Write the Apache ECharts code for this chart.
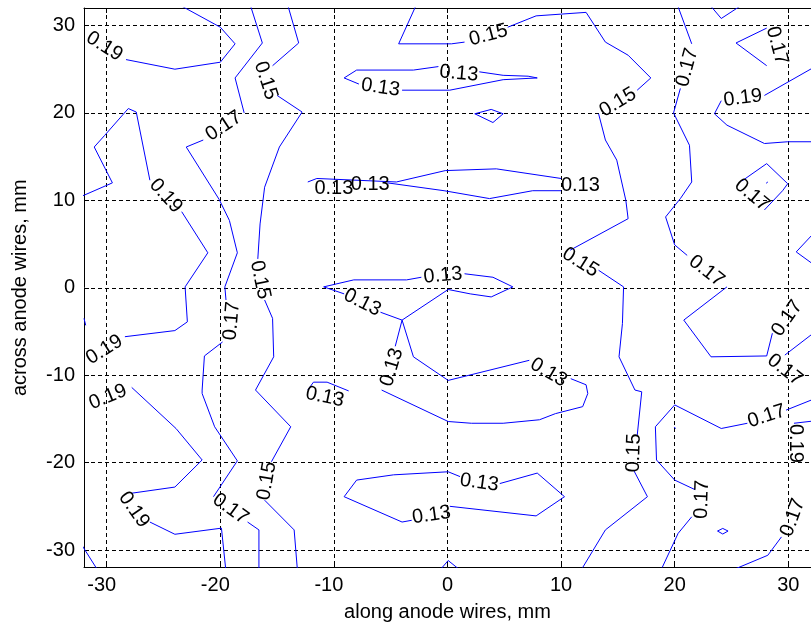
<!DOCTYPE html>
<html>
<head>
<meta charset="utf-8">
<script src="https://cdn.jsdelivr.net/npm/echarts@6/dist/echarts.min.js"></script>
<style>html,body{margin:0;padding:0;background:#fff}#chart{width:811px;height:629px}</style>
</head>
<body>
<div id="chart"></div>
<script>
// ---- contour polylines, data units (mm) ----
const c19_topLeft   = [[-28.3,26.1],[-24.0,25.0],[-20.0,25.8],[-18.7,27.9],[-20.0,29.8],[-23.8,32.5]];
const c17_left1     = [[-17.4,32.5],[-16.3,28.0],[-18.7,24.0],[-17.9,20.0]];
const c17_left2     = [[-21.5,16.9],[-23.0,16.1],[-20.1,10.1],[-19.2,7.7],[-18.5,4.0],[-19.6,0.1],[-19.5,-1.4]];
const c17_left3     = [[-19.8,-6.2],[-21.4,-7.8],[-21.6,-11.7],[-21.6,-12.1],[-20.5,-15.9],[-18.5,-19.8],[-20.6,-23.9]];
const c17_left4     = [[-17.6,-26.8],[-16.6,-27.7],[-16.6,-32.5]];
const c19_mid1      = [[-32.5,10.3],[-29.5,12.0],[-31.1,16.1],[-30.2,17.4],[-28.1,20.5],[-27.4,20.1],[-26.2,12.3]];
const c19_mid2      = [[-23.4,8.7],[-21.1,4.0],[-23.1,0.1],[-22.9,-3.9],[-24.0,-4.9],[-28.4,-5.6]];
const c19_low1      = [[-27.8,-11.4],[-23.9,-16.1],[-21.6,-19.7],[-24.0,-22.8],[-27.8,-23.5]];
const c19_low2      = [[-26.2,-26.8],[-24.0,-28.2],[-19.9,-27.5],[-19.5,-32.5]];
const c_corner      = [[-32.5,-28.8],[-30.7,-32.5]];
const c_leftStub    = [[-32.0,-3.5],[-31.85,-4.3]];
const c15_left1     = [[-14.1,32.5],[-13.1,28.0],[-15.4,25.4]];
const c15_left2     = [[-15.0,22.0],[-12.8,20.1],[-14.8,16.1],[-16.1,11.5],[-16.5,7.3],[-16.7,3.3]];
const c15_left3     = [[-16.1,-1.4],[-15.4,-3.5],[-15.3,-7.9],[-16.9,-11.7],[-17.0,-11.9],[-13.8,-15.9],[-15.5,-19.9]];
const c15_left4     = [[-16.1,-24.3],[-13.5,-27.7],[-13.2,-32.5]];
const c13_small     = [[-12.3,-11.7],[-11.8,-10.8],[-10.6,-10.8],[-8.7,-11.8]];
const c13_top1      = [[2.8,24.7],[4.9,24.3],[7.1,24.2],[7.9,24.0],[4.9,23.8],[0.2,22.6],[-4.0,22.6]];
const c13_top2      = [[-7.8,23.3],[-9.1,24.0],[-8.0,24.9],[-3.0,24.9],[-0.8,25.3]];
const c13_diamond   = [[2.4,19.9],[4.0,18.9],[4.9,19.9],[3.85,20.4],[2.4,19.9]];
const c13_y12up     = [[-12.3,12.1],[-11.5,12.5],[-4.5,12.1],[-0.2,13.4],[4.3,13.6],[10.0,12.5]];
const c13_y12lo     = [[10.0,11.1],[7.5,11.1],[3.7,10.2],[-0.3,11.1],[-5.3,12.0]];
const c13_c1        = [[1.5,1.6],[4.0,1.2],[5.75,0.1],[3.85,-1.05],[2.0,-0.7],[0.06,-0.2],[-4.0,-3.7],[-5.9,-2.8]];
const c13_c2        = [[-9.1,-0.7],[-10.9,0.1],[-8.25,0.9],[-3.6,0.9],[-2.3,1.2]];
const c13_c3        = [[-4.0,-3.7],[-3.0,-7.9],[0.06,-10.6],[7.2,-8.3]];
const c13_c4        = [[10.85,-10.4],[12.2,-11.1],[12.35,-12.1],[11.9,-13.6],[9.5,-14.4],[8.1,-15.1],[4.9,-15.5],[2.1,-15.5],[0.06,-15.3],[-5.8,-11.7]];
const c13_c5        = [[-4.0,-3.7],[-4.6,-6.7]];
const c13_low1      = [[4.6,-22.4],[7.9,-21.2],[10.3,-23.9],[7.8,-26.1],[0.2,-25.0]];
const c13_low2      = [[-3.15,-26.6],[-4.0,-26.8],[-9.1,-23.9],[-8.0,-22.0],[-4.75,-21.4],[0.06,-21.05],[1.1,-21.6]];
const c13_bottom    = [[-0.8,-32.5],[0.06,-31.2],[1.3,-32.5]];
const c15_ctr1      = [[-2.7,32.5],[-4.3,27.9],[0.35,27.9],[1.5,28.1]];
const c15_ctr2      = [[5.3,29.8],[7.8,31.1],[10.0,31.3],[12.2,31.5],[13.9,28.1],[15.9,26.6],[17.9,24.0],[16.7,22.6]];
const c15_ctr3      = [[13.3,19.9],[13.9,16.9],[14.9,14.6],[15.7,10.0],[15.9,7.9],[10.8,4.3]];
const c15_ctr4      = [[13.3,2.0],[15.5,0.1],[15.4,-4.1],[15.1,-7.9],[16.5,-11.7],[17.1,-11.9],[16.7,-16.9]];
const c15_ctr5      = [[16.4,-20.9],[17.6,-23.9],[13.9,-27.7],[11.9,-32.0]];
const c17_right1    = [[20.2,32.5],[21.5,27.9]];
const c17_right2    = [[20.5,22.8],[19.9,20.0],[21.3,16.3],[21.5,12.1],[20.5,10.2],[19.2,8.1],[20.0,4.9],[21.1,3.7]];
const c17_right3    = [[24.6,0.1],[20.8,-3.7],[23.2,-7.9],[28.1,-7.8],[28.6,-5.2]];
const c17_low1      = [[32.5,-12.6],[29.8,-14.0]];
const c17_low2      = [[26.4,-15.5],[24.1,-16.1],[20.0,-13.4],[18.3,-15.9],[18.4,-19.7],[20.0,-22.0],[21.8,-23.1]];
const c17_low3      = [[21.5,-26.2],[20.3,-28.1],[18.9,-32.0]];
const c_dot1        = [[19.95,-15.95],[20.1,-16.1]];
const c_dot2        = [[28.05,11.95],[28.2,12.1]];
const c19_right1    = [[32.5,25.4],[27.9,22.0]];
const c19_right2    = [[24.1,21.4],[23.5,19.9],[24.6,18.6],[27.9,16.5],[29.95,16.7],[32.5,16.7]];
const c17_diamond   = [[28.1,25.4],[25.4,28.0],[28.1,29.7]];
const c17_tri       = [[27.9,8.9],[29.5,11.1],[29.95,11.9],[28.1,14.2],[25.9,12.2]];
const c_topDip      = [[23.0,32.5],[24.1,30.8],[26.1,32.5]];
const c_rightV      = [[32.5,6.6],[30.7,4.1],[32.5,2.4]];
const c17_rightY    = [[32.5,-4.9],[29.7,-7.7]];
const c19_right3    = [[32.5,-15.2],[30.5,-15.5]];
const c17_corner    = [[24.7,-32.5],[28.2,-30.6],[29.4,-28.5]];
const c_smallDiam   = [[23.77,-27.83],[24.23,-27.53],[24.70,-27.83],[24.23,-28.17],[23.77,-27.83]];

const contourLines = [c19_topLeft,c17_left1,c17_left2,c17_left3,c17_left4,c19_mid1,c19_mid2,c19_low1,c19_low2,
  c_corner,c_leftStub,c15_left1,c15_left2,c15_left3,c15_left4,c13_small,c13_top1,c13_top2,c13_diamond,
  c13_y12up,c13_y12lo,c13_c1,c13_c2,c13_c3,c13_c4,c13_c5,c13_low1,c13_low2,c13_bottom,
  c15_ctr1,c15_ctr2,c15_ctr3,c15_ctr4,c15_ctr5,c17_right1,c17_right2,c17_right3,c17_low1,c17_low2,c17_low3,
  c_dot1,c_dot2,c19_right1,c19_right2,c17_diamond,c17_tri,c_topDip,c_rightV,c17_rightY,c19_right3,c17_corner,c_smallDiam];

// ---- contour labels: [x, y, text] ----
const labelPoints = [
  [-30.2,27.6,'0.19'],[-19.7,18.5,'0.17'],[-19.0,-3.8,'0.17'],[-19.1,-25.3,'0.17'],
  [-24.8,10.5,'0.19'],[-30.2,-7.1,'0.19'],[-29.9,-12.5,'0.19'],[-27.6,-25.4,'0.19'],
  [-16.0,23.7,'0.15'],[-16.5,0.9,'0.15'],[-15.9,-22.1,'0.15'],
  [-10.8,-12.5,'0.13'],[1.0,24.5,'0.13'],[-5.9,22.9,'0.13'],
  [-10.0,11.3,'0.13'],[-6.8,11.8,'0.13'],[11.7,11.7,'0.13'],
  [-0.4,1.4,'0.13'],[-7.5,-1.7,'0.13'],[8.9,-9.7,'0.13'],[-4.9,-9.1,'0.13'],
  [2.8,-22.3,'0.13'],[-1.4,-26.0,'0.13'],
  [3.6,28.9,'0.15'],[15.0,21.2,'0.15'],[11.7,2.9,'0.15'],[16.4,-18.9,'0.15'],
  [21.1,25.2,'0.17'],[22.8,1.9,'0.17'],[29.9,-3.5,'0.17'],[28.1,-14.7,'0.17'],[22.4,-24.2,'0.17'],
  [26.0,21.7,'0.19'],[29.0,27.7,'0.17'],[26.8,10.6,'0.17'],[29.7,-9.4,'0.17'],[30.6,-17.8,'0.19'],[30.4,-26.3,'0.17']
];
const labelAngles = [-32,33,85,-36, -48,32,22,-55, -72,-78,80, -12,-5,-8, 0,0,0, 5,-27,-30,73, -8,8,
  15,31,-32,88, 75,-38,55,18,88, 7,-75,-40,-38,-90,70];

const FONT = "'Liberation Sans', Arial, sans-serif";
const chart = echarts.init(document.getElementById('chart'), null, {renderer:'canvas'});

const series = contourLines.map(pts => ({
  type:'line', data: pts, showSymbol:false, symbol:'none', silent:true, animation:false,
  lineStyle:{color:'#0000ff', width:1}, z:3
}));
series.push({
  type:'scatter', symbol:'circle', symbolSize:2, silent:true, animation:false, z:5,
  itemStyle:{color:'rgba(255,255,255,0)'},
  labelLayout:{hideOverlap:false},
  data: labelPoints.map((p,i) => ({value:[p[0],p[1]], name:p[2], label:{rotate:labelAngles[i]}})),
  label:{show:true, position:'inside', formatter:p=>p.name, color:'#000000', opacity:1,
         textBorderWidth:0, textBorderColor:'transparent', fontSize:20, fontFamily:FONT}
});

const axisCommon = {
  type:'value', min:-32, max:32, splitNumber:6,
  axisLine:{show:true, onZero:false, lineStyle:{color:'#000', width:1}},
  axisTick:{show:true, inside:true, length:5, lineStyle:{color:'#000'}}
};
chart.setOption({
  backgroundColor:'#fff',
  animation:false,
  grid:{left:84, top:8, width:733, height:559.5, containLabel:false},
  xAxis:[
    Object.assign({}, axisCommon, {
      position:'bottom',
      axisLabel:{color:'#000', fontSize:20, fontFamily:FONT, margin:8, showMinLabel:false, showMaxLabel:false,
        formatter: v => v < 0 ? '{neg|' + v + '}' : String(v),
        rich:{neg:{color:'#000', fontSize:20, fontFamily:FONT, padding:[0,10,0,0]}}},
      splitLine:{show:true, lineStyle:{color:'#000', type:[4,3], width:1}},
      name:'along anode wires, mm', nameLocation:'middle', nameGap:35,
      nameTextStyle:{color:'#000', fontSize:20, fontFamily:FONT}
    }),
    Object.assign({}, axisCommon, {position:'top', axisLabel:{show:false}, splitLine:{show:false}})
  ],
  yAxis:[
    Object.assign({}, axisCommon, {
      position:'left',
      axisLabel:{color:'#000', fontSize:20, fontFamily:FONT, margin:9, showMinLabel:false, showMaxLabel:false},
      splitLine:{show:true, lineStyle:{color:'#000', type:[4,3], width:1}},
      name:'across anode wires, mm', nameLocation:'middle', nameGap:54,
      nameTextStyle:{color:'#000', fontSize:20, fontFamily:FONT}
    })
  ],
  series: series
});
</script>
</body>
</html>
